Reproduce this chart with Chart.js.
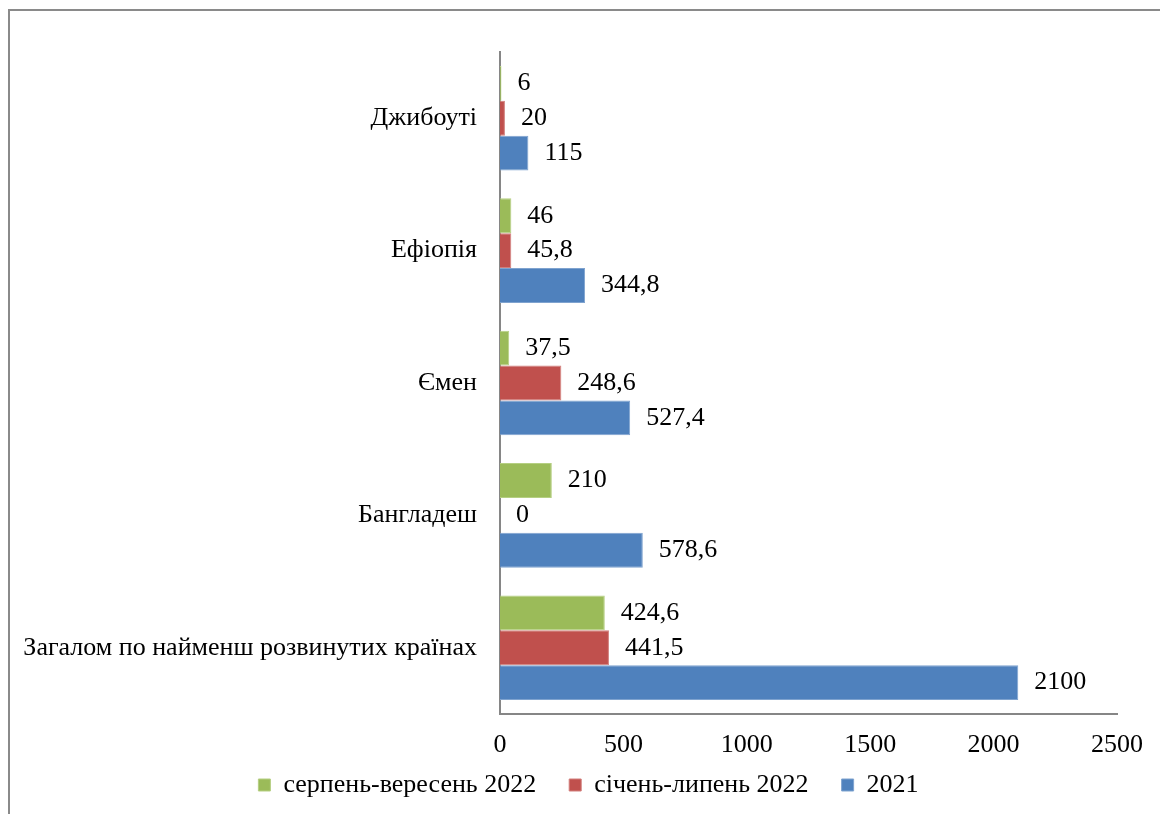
<!DOCTYPE html>
<html>
<head>
<meta charset="utf-8">
<script src="https://cdn.jsdelivr.net/npm/chart.js@4"></script>
<style>
  body { margin: 0; background: #fff; }
  .wrap { position: relative; width: 1160px; height: 814px; overflow: hidden; }
  .frame { position: absolute; left: 8px; top: 9px; width: 1200px; height: 900px; border: 2px solid #8a8a8a; box-sizing: border-box; }
  canvas { position: absolute; left: 0; top: 0; }
</style>
</head>
<body>
<div class="wrap">
  <div class="frame"></div>
  <canvas class="myChart" width="1160" height="814"></canvas>
</div>
<script>
const categories = ["Джибоуті", "Ефіопія", "Ємен", "Бангладеш", "Загалом по найменш розвинутих країнах"];
const augSep2022 = [6, 46, 37.5, 210, 424.6];
const janJul2022 = [20, 45.8, 248.6, 0, 441.5];
const year2021 = [115, 344.8, 527.4, 578.6, 2100];
const seriesNames = ["серпень-вересень 2022", "січень-липень 2022", "2021"];
const xTicks = [0, 500, 1000, 1500, 2000, 2500];

const fontFamily = "'Liberation Serif', 'Times New Roman', serif";

// draws the value next to the end of every bar
const valueLabels = {
  id: "valueLabels",
  afterDatasetsDraw(chart) {
    const ctx = chart.ctx;
    ctx.save();
    ctx.font = "26px " + fontFamily;
    ctx.fillStyle = "#000";
    ctx.textBaseline = "middle";
    ctx.textAlign = "left";
    chart.data.datasets.forEach((ds, i) => {
      chart.getDatasetMeta(i).data.forEach((bar, j) => {
        const text = String(ds.data[j]).replace(".", ",");
        ctx.fillText(text, bar.x + 16, bar.y);
      });
    });
    ctx.restore();
  },
};

const ctx = document.querySelector(".myChart").getContext("2d");
const myChart = new Chart(ctx, {
  type: "bar",
  data: {
    labels: categories,
    datasets: [
      {
        label: seriesNames[0],
        data: augSep2022,
        backgroundColor: "#9bbb59",
        borderColor: "#b5cf82",
        borderWidth: 1,
      },
      {
        label: seriesNames[1],
        data: janJul2022,
        backgroundColor: "#c0504d",
        borderColor: "#d27f7c",
        borderWidth: 1,
      },
      {
        label: seriesNames[2],
        data: year2021,
        backgroundColor: "#4f81bd",
        borderColor: "#7fa3cf",
        borderWidth: 1,
      },
    ],
  },
  options: {
    indexAxis: "y",
    responsive: false,
    animation: false,
    layout: { padding: { top: 52, right: 43, left: 60, bottom: 6 } },
    datasets: { bar: { categoryPercentage: 0.79, barPercentage: 1 } },
    scales: {
      x: {
        min: 0,
        max: 2500,
        afterBuildTicks: (scale) => { scale.ticks = xTicks.map((v) => ({ value: v })); },
        grid: { display: false },
        border: { display: true, color: "#868686", width: 2 },
        ticks: {
          color: "#000",
          padding: 8,
          font: { family: fontFamily, size: 26 },
          callback: (v) => String(v),
        },
        afterFit: (scale) => {
          scale.height = 25;
          // tick labels hang into the legend band, so don't clip them to the axis box
          scale._computeLabelArea = () => undefined;
        },
      },
      y: {
        grid: { display: false },
        border: { display: true, color: "#868686", width: 2 },
        ticks: { color: "#000", padding: 15, font: { family: fontFamily, size: 26 } },
        afterFit: (scale) => {
          scale.width = 440;
          scale._computeLabelArea = () => undefined;
        },
      },
    },
    plugins: {
      legend: {
        position: "bottom",
        labels: {
          color: "#000",
          boxWidth: 12,
          boxHeight: 12,
          padding: 33,
          font: { family: fontFamily, size: 26 },
        },
      },
      tooltip: { enabled: false },
    },
  },
  plugins: [valueLabels],
});
</script>
</body>
</html>
